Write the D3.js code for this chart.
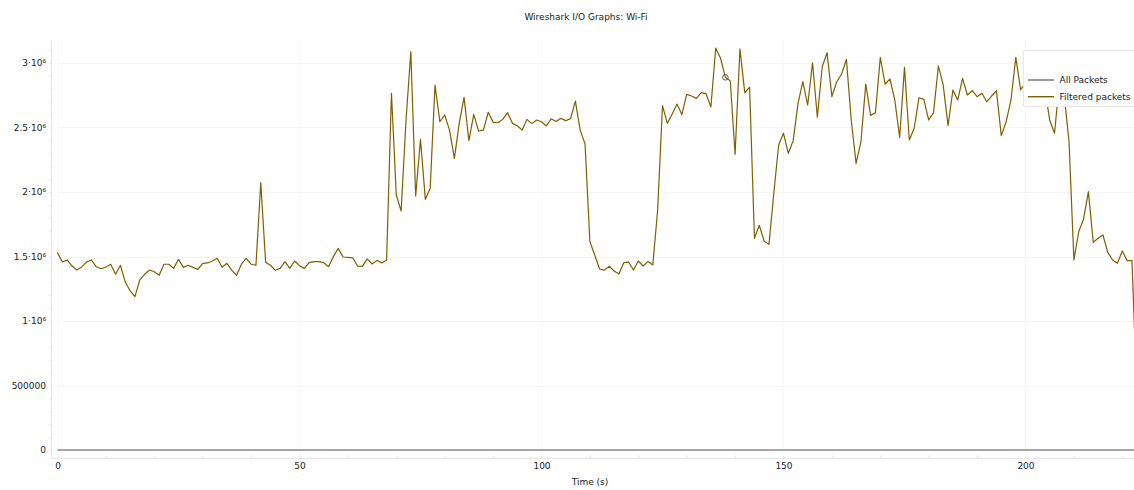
<!DOCTYPE html>
<html>
<head>
<meta charset="utf-8">
<script src="https://cdn.jsdelivr.net/npm/d3@7"></script>
<style>
  html, body { margin: 0; padding: 0; background: #fff; }
  svg { display: block; }
  text { font-family: "DejaVu Sans", sans-serif; font-size: 9px; fill: #222; }
</style>
</head>
<body>
<svg id="chart" width="1134" height="490"></svg>
<script>
// ---------------- data ----------------
const chartTitle = "Wireshark I/O Graphs: Wi-Fi";
const xAxisLabel = "Time (s)";
const seriesNames = ["All Packets", "Filtered packets"];
const xTickValues = [0, 50, 100, 150, 200];
const yTickValues = [0, 500000, 1000000, 1500000, 2000000, 2500000, 3000000];
const yTickLabels = ["0", "500000", "1·10⁶", "1.5·10⁶", "2·10⁶", "2.5·10⁶", "3·10⁶"];

// Filtered packets, one value per second (millions), t = 0..223
const filteredMillions = [
  1.53, 1.457, 1.473, 1.426, 1.395, 1.419, 1.457, 1.473, 1.421, 1.405,
  1.419, 1.44, 1.362, 1.432, 1.302, 1.235, 1.189, 1.318, 1.362, 1.395,
  1.382, 1.354, 1.44, 1.44, 1.408, 1.478, 1.416, 1.432, 1.416, 1.40,
  1.447, 1.45, 1.465, 1.486, 1.416, 1.447, 1.395, 1.354, 1.44, 1.486,
  1.44, 1.432, 2.072, 1.455, 1.432, 1.393, 1.408, 1.46, 1.408, 1.465,
  1.429, 1.408, 1.452, 1.46, 1.46, 1.452, 1.421, 1.499, 1.563, 1.496,
  1.493, 1.49, 1.426, 1.424, 1.481, 1.442, 1.47, 1.45, 1.473, 2.765,
  1.977, 1.853, 2.55, 3.088, 1.969, 2.408, 1.943, 2.028, 2.829, 2.545,
  2.597, 2.48, 2.261, 2.532, 2.734, 2.398, 2.602, 2.473, 2.48, 2.618,
  2.54, 2.537, 2.563, 2.615, 2.532, 2.514, 2.48, 2.563, 2.53, 2.558,
  2.545, 2.512, 2.568, 2.547, 2.571, 2.553, 2.568, 2.705, 2.48, 2.372,
  1.615, 1.512, 1.403, 1.395, 1.424, 1.388, 1.364, 1.452, 1.457, 1.395,
  1.465, 1.426, 1.462, 1.434, 1.86, 2.669, 2.532, 2.605, 2.682, 2.6,
  2.757, 2.744, 2.726, 2.77, 2.762, 2.659, 3.116, 3.036, 2.889, 2.863,
  2.292, 3.109, 2.77, 2.812, 1.641, 1.742, 1.62, 1.594, 1.99, 2.364,
  2.455, 2.3, 2.398, 2.687, 2.855, 2.674, 3.002, 2.579, 2.971, 3.08,
  2.739, 2.855, 2.915, 3.028, 2.558, 2.222, 2.39, 2.837, 2.594, 2.615,
  3.043, 2.837, 2.876, 2.713, 2.424, 2.966, 2.403, 2.494, 2.731, 2.718,
  2.558, 2.615, 2.977, 2.829, 2.514, 2.791, 2.713, 2.881, 2.752, 2.785,
  2.739, 2.765, 2.7, 2.744, 2.785, 2.437, 2.545, 2.713, 3.043, 2.791,
  2.85, 2.95, 2.78, 2.9, 2.8, 2.558, 2.455, 2.85, 2.75, 2.39,
  1.473, 1.692, 1.791, 2.003, 1.61, 1.641, 1.667, 1.532, 1.473, 1.447,
  1.543, 1.468, 1.468, 0.45
];

// All Packets (read as ~0 over the whole range)
const allPackets = [
  0,0,0,0,0,0,0,0,0,0, 0,0,0,0,0,0,0,0,0,0, 0,0,0,0,0,0,0,0,0,0,
  0,0,0,0,0,0,0,0,0,0, 0,0,0,0,0,0,0,0,0,0, 0,0,0,0,0,0,0,0,0,0,
  0,0,0,0,0,0,0,0,0,0, 0,0,0,0,0,0,0,0,0,0, 0,0,0,0,0,0,0,0,0,0,
  0,0,0,0,0,0,0,0,0,0, 0,0,0,0,0,0,0,0,0,0, 0,0,0,0,0,0,0,0,0,0,
  0,0,0,0,0,0,0,0,0,0, 0,0,0,0,0,0,0,0,0,0, 0,0,0,0,0,0,0,0,0,0,
  0,0,0,0,0,0,0,0,0,0, 0,0,0,0,0,0,0,0,0,0, 0,0,0,0,0,0,0,0,0,0,
  0,0,0,0,0,0,0,0,0,0, 0,0,0,0,0,0,0,0,0,0, 0,0,0,0,0,0,0,0,0,0,
  0,0,0,0,0,0,0,0,0,0, 0,0,0,0
];

const markerTime = 138; // hovered point marker

// ---------------- chart ----------------
const svg = d3.select("#chart");
const W = 1134, H = 490;
const axisX = 51, axisY = 458;

const x = d3.scaleLinear().domain([0, 222.4]).range([57.5, 1133.9]);
const y = d3.scaleLinear().domain([0, 3000000]).range([450, 63]);
const yTop = 40;

svg.append("rect").attr("width", W).attr("height", H).attr("fill", "#fff");

// gridlines
const grid = svg.append("g");
grid.selectAll("line.h").data(yTickValues).join("line")
  .attr("x1", x(0)).attr("x2", W)
  .attr("y1", d => Math.round(y(d)) + 0.5).attr("y2", d => Math.round(y(d)) + 0.5)
  .attr("stroke", "#f5f5f5").attr("stroke-width", 1);
grid.selectAll("line.v").data(xTickValues).join("line")
  .attr("x1", d => Math.round(x(d)) + 0.5).attr("x2", d => Math.round(x(d)) + 0.5)
  .attr("y1", yTop).attr("y2", axisY)
  .attr("stroke", "#f7f7f7").attr("stroke-width", 1);

// axis lines
svg.append("line").attr("x1", axisX + 0.5).attr("x2", axisX + 0.5)
  .attr("y1", yTop).attr("y2", axisY + 0.5).attr("stroke", "#e6e6e6");
svg.append("line").attr("x1", axisX).attr("x2", W)
  .attr("y1", axisY + 0.5).attr("y2", axisY + 0.5).attr("stroke", "#e6e6e6");

// minor ticks (left)
const yMinor = d3.axisLeft(y).tickValues(d3.range(0, 3200000, 100000))
  .tickSize(2).tickFormat("").tickSizeOuter(0);
const gyMinor = svg.append("g").attr("transform", `translate(${axisX + 0.5},0)`).call(yMinor);
gyMinor.select(".domain").remove();
gyMinor.selectAll("line").attr("stroke", "#e2e2e2");

// y labels
const yAxis = d3.axisLeft(y).tickValues(yTickValues)
  .tickFormat((d, i) => yTickLabels[i]).tickSize(0).tickPadding(5);
const gy = svg.append("g").attr("transform", `translate(${axisX},0)`).call(yAxis);
gy.select(".domain").remove();
gy.selectAll("text").attr("font-family", "DejaVu Sans").attr("font-size", 9).attr("fill", "#222");

// minor ticks (bottom)
const xMinor = d3.axisBottom(x).tickValues(d3.range(0, 230, 10))
  .tickSize(-3).tickFormat("").tickSizeOuter(0);
const gxMinor = svg.append("g").attr("transform", `translate(0,${axisY + 0.5})`).call(xMinor);
gxMinor.select(".domain").remove();
gxMinor.selectAll("line").attr("stroke", "#e2e2e2");

// x labels
const xAxis = d3.axisBottom(x).tickValues(xTickValues).tickSize(0).tickPadding(5);
const gx = svg.append("g").attr("transform", `translate(0,${axisY})`).call(xAxis);
gx.select(".domain").remove();
gx.selectAll("text").attr("font-family", "DejaVu Sans").attr("font-size", 9).attr("fill", "#222");

// clip
svg.append("clipPath").attr("id", "plotclip")
  .append("rect").attr("x", axisX).attr("y", 0).attr("width", W - axisX).attr("height", axisY);

const line = d3.line().x((d, i) => x(i)).y(d => y(d));

svg.append("path").datum(allPackets)
  .attr("clip-path", "url(#plotclip)")
  .attr("d", line).attr("fill", "none")
  .attr("stroke", "#555").attr("stroke-width", 1.2);

svg.append("path").datum(filteredMillions.map(v => v * 1e6))
  .attr("clip-path", "url(#plotclip)")
  .attr("d", line).attr("fill", "none")
  .attr("stroke", "#7f5f00").attr("stroke-width", 1.2)
  .attr("stroke-linejoin", "round");

// hover marker
svg.append("circle")
  .attr("cx", x(markerTime)).attr("cy", y(filteredMillions[markerTime] * 1e6))
  .attr("r", 2.8).attr("fill", "none").attr("stroke", "#555").attr("stroke-width", 1);

// title & axis label
svg.append("text").attr("x", 586).attr("y", 20).attr("text-anchor", "middle").text(chartTitle);
svg.append("text").attr("x", 590).attr("y", 485).attr("text-anchor", "middle").text(xAxisLabel);

// legend
const legend = svg.append("g");
legend.append("rect").attr("x", 1023.5).attr("y", 50.5).attr("width", 130).attr("height", 56)
  .attr("fill", "#fff").attr("stroke", "#e8e8e8");
const legendColors = ["#6e6e6e", "#7f5f00"];
seriesNames.forEach((name, i) => {
  const ly = 80 + i * 16.7;
  legend.append("line").attr("x1", 1028).attr("x2", 1054).attr("y1", ly).attr("y2", ly)
    .attr("stroke", legendColors[i]).attr("stroke-width", 1.4);
  legend.append("text").attr("x", 1059.5).attr("y", ly).attr("dy", "0.35em").text(name);
});
</script>
</body>
</html>
